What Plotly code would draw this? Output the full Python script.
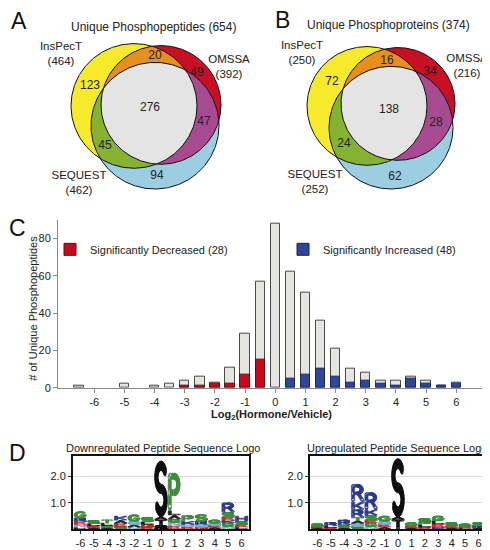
import numpy as np
import plotly.graph_objects as go

FONT = "Liberation Sans, Arial, Helvetica, sans-serif"
TXT = "#222222"
W, H = 490, 550

# ---------------- data ----------------
venn_set_names = ["InsPecT", "OMSSA", "SEQUEST"]
venn_region_keys = ["I", "O", "S", "IO", "IS", "OS", "IOS"]
pep_region_counts = [123, 49, 94, 20, 45, 47, 276]
pep_set_totals = [464, 392, 462]
pep_unique_total = 654
prot_region_counts = [72, 34, 62, 16, 24, 28, 138]
prot_set_totals = [250, 216, 252]
prot_unique_total = 374

hist_bins = [-6.5, -6.0, -5.5, -5.0, -4.5, -4.0, -3.5, -3.0, -2.5, -2.0, -1.5, -1.0, -0.5,
             0.0, 0.5, 1.0, 1.5, 2.0, 2.5, 3.0, 3.5, 4.0, 4.5, 5.0, 5.5, 6.0]
hist_total = [1, 0, 0, 2, 0, 1, 2, 4, 6, 3, 11, 29, 57,
              88, 62, 51, 36, 21, 10, 8, 4, 4, 6, 4, 1, 3]
hist_decreased = [0, 0, 0, 0, 0, 0, 0, 1, 1, 2, 2, 7, 15,
                  0, 0, 0, 0, 0, 0, 0, 0, 0, 0, 0, 0, 0]
hist_increased = [0, 0, 0, 0, 0, 0, 0, 0, 0, 0, 0, 0, 0,
                  0, 5, 7, 10, 6, 3, 4, 2, 1, 5, 2, 1, 2]
hist_ticks = [-6, -5, -4, -3, -2, -1, 0, 1, 2, 3, 4, 5, 6]
hist_ticktext = ["-6", "-5", "-4", "-3", "-2", "-1", "0", "1", "2", "3", "4", "5", "6"]

logo_positions = [-6, -5, -4, -3, -2, -1, 0, 1, 2, 3, 4, 5, 6]
logo_ticktext = ["-6", "-5", "-4", "-3", "-2", "-1", "0", "1", "2", "3", "4", "5", "6"]
# residues listed bottom -> top, with their heights in bits
down_residues = ["LNERG", "AELS", "AGLT", "SEAK", "NAQG", "EDLS", "DQTAS",
                 "ENGALP", "ENKP", "DQRS", "AEQG", "NGKESR", "LESH"]
down_bits = [[0.08, 0.10, 0.12, 0.12, 0.25], [0.06, 0.07, 0.08, 0.12],
             [0.06, 0.08, 0.09, 0.12], [0.10, 0.12, 0.12, 0.16],
             [0.08, 0.10, 0.12, 0.25], [0.08, 0.10, 0.10, 0.17],
             [0.06, 0.08, 0.22, 0.12, 2.10],
             [0.14, 0.12, 0.12, 0.16, 0.16, 1.42],
             [0.10, 0.08, 0.12, 0.22], [0.08, 0.10, 0.12, 0.25],
             [0.07, 0.08, 0.08, 0.12], [0.10, 0.14, 0.10, 0.12, 0.18, 0.36],
             [0.08, 0.10, 0.12, 0.20]]
up_residues = ["AES", "ELR", "AGR", "SQATRKR", "NGESKR", "AEQG", "TAS",
               "AEG", "ELPS", "KELG", "AES", "LEG", "ARS"]
up_bits = [[0.05, 0.06, 0.09], [0.06, 0.07, 0.12], [0.06, 0.10, 0.19],
           [0.10, 0.12, 0.10, 0.12, 0.30, 0.30, 0.66],
           [0.10, 0.14, 0.10, 0.18, 0.23, 0.64],
           [0.08, 0.10, 0.12, 0.20], [0.37, 0.10, 2.20],
           [0.06, 0.07, 0.12], [0.08, 0.10, 0.10, 0.12], [0.08, 0.12, 0.12, 0.18],
           [0.06, 0.07, 0.12], [0.05, 0.06, 0.09], [0.06, 0.08, 0.11]]

# ---------------- styles / layout geometry ----------------
region_colors = {"I": "#f6ea2a", "O": "#c80f23", "S": "#9dcde0", "IO": "#e5901e",
                 "IS": "#86b232", "OS": "#a84a92", "IOS": "#e4e4e4"}
# circles (cx, cy, r) in page pixels
venn_geom = [
    {"I": (126, 99, 63), "O": (153, 98, 60), "S": (147, 119, 64)},
    {"I": (359, 99, 60), "O": (390, 97, 57), "S": (383, 121, 62)},
]
venn_count_pos = [
    {"I": (82, 79), "O": (189, 66), "S": (149, 170), "IO": (147, 49), "IS": (97, 140),
     "OS": (196, 115), "IOS": (142, 101)},
    {"I": (324, 75), "O": (422, 65), "S": (387, 171), "IO": (379, 54), "IS": (336, 138),
     "OS": (428, 116), "IOS": (381, 103)},
]
venn_name_pos = [
    [(53, 47), (221, 60), (71, 178)],
    [(294, 46), (459, 59), (307, 177)],
]
venn_title_pos = [(145, 19), (380, 17)]

fig = go.Figure()


def px_x(v):
    return v / W


def px_y(v):
    return 1 - v / H


def region_poly(circles):
    th = np.linspace(0, 2 * np.pi, 2161)[:-1]
    pts = []
    for i, (cx, cy, r) in enumerate(circles):
        x = cx + r * np.cos(th)
        y = cy + r * np.sin(th)
        m = np.ones_like(x, dtype=bool)
        for j, (cx2, cy2, r2) in enumerate(circles):
            if j != i:
                m &= (x - cx2) ** 2 + (y - cy2) ** 2 <= r2 ** 2 + 1e-9
        pts.append(np.c_[x[m], y[m]])
    P = np.vstack(pts)
    c = P.mean(axis=0)
    ang = np.arctan2(P[:, 1] - c[1], P[:, 0] - c[0])
    P = P[np.argsort(ang)]
    P = np.vstack([P, P[:1]])
    return P[:, 0], P[:, 1]


# ---------------- Venn diagrams ----------------
venn_counts = [pep_region_counts, prot_region_counts]
venn_totals = [pep_set_totals, prot_set_totals]
venn_titles = ["Unique Phosphopeptides (%d)" % pep_unique_total,
               "Unique Phosphoproteins (%d)" % prot_unique_total]
for k in range(2):
    g = venn_geom[k]
    for key in ["I", "O", "S", "IO", "IS", "OS", "IOS"]:
        circ = [g[c] for c in key]
        xs, ys = region_poly(circ)
        fig.add_trace(go.Scatter(x=xs, y=ys, mode="lines", fill="toself",
                                 fillcolor=region_colors[key], line=dict(width=0),
                                 hoverinfo="skip", showlegend=False,
                                 xaxis="x4", yaxis="y4"))
    th = np.linspace(0, 2 * np.pi, 361)
    for c in ["I", "O", "S"]:
        cx, cy, r = g[c]
        fig.add_trace(go.Scatter(x=cx + r * np.cos(th), y=cy + r * np.sin(th), mode="lines",
                                 line=dict(color="#111111", width=1), hoverinfo="skip",
                                 showlegend=False, xaxis="x4", yaxis="y4"))
    fig.add_trace(go.Scatter(
        x=[venn_count_pos[k][r][0] for r in venn_region_keys],
        y=[venn_count_pos[k][r][1] for r in venn_region_keys],
        text=[str(v) for v in venn_counts[k]], mode="text",
        textfont=dict(family=FONT, size=12, color=TXT),
        hoverinfo="skip", showlegend=False, xaxis="x4", yaxis="y4"))
    fig.add_trace(go.Scatter(
        x=[p[0] for p in venn_name_pos[k]], y=[p[1] for p in venn_name_pos[k]],
        text=["%s<br>(%d)" % (n, t) for n, t in zip(venn_set_names, venn_totals[k])],
        mode="text", textfont=dict(family=FONT, size=11.5, color=TXT),
        hoverinfo="skip", showlegend=False, xaxis="x4", yaxis="y4"))
    fig.add_annotation(x=px_x(venn_title_pos[k][0]), y=px_y(venn_title_pos[k][1]),
                       xref="paper", yref="paper", xanchor="center", yanchor="middle",
                       text=venn_titles[k], showarrow=False,
                       font=dict(family=FONT, size=12, color=TXT))

# ---------------- Histogram ----------------
fig.add_trace(go.Bar(x=hist_bins, y=[v if v else None for v in hist_total], width=0.31,
                     marker=dict(color="#e4e4e1", line=dict(color="#4a4a4a", width=1)),
                     showlegend=False, xaxis="x", yaxis="y", hoverinfo="x+y"))
fig.add_trace(go.Bar(x=hist_bins, y=[v if v else None for v in hist_decreased], width=0.31,
                     marker=dict(color="#c8081c", line=dict(color="#5a1010", width=1)),
                     name="Significantly Decreased (%d)" % sum(hist_decreased),
                     legend="legend", xaxis="x", yaxis="y"))
fig.add_trace(go.Bar(x=hist_bins, y=[v if v else None for v in hist_increased], width=0.31,
                     marker=dict(color="#304797", line=dict(color="#1c2658", width=1)),
                     name="Significantly Increased (%d)" % sum(hist_increased),
                     legend="legend2", xaxis="x", yaxis="y"))

# ---------------- Sequence logos ----------------
def arc(cx, cy, rx, ry, a0, a1, n=28):
    t = np.radians(np.linspace(a0, a1, n))
    return list(zip(cx + rx * np.cos(t), cy + ry * np.sin(t)))


# glyph centre-lines in a unit box; stroked with an elliptical pen so that
# the letters stretch like the glyphs of a sequence logo
P_BODY = [[(0.0, 0.0), (0.0, 1.0), (0.5, 1.0)] + arc(0.5, 0.74, 0.42, 0.26, 90, -90) + [(0.0, 0.48)]]
GLYPHS = {
    "S": [arc(0.5, 0.75, 0.5, 0.25, 30, 270) + arc(0.5, 0.25, 0.5, 0.25, 90, -150)],
    "P": P_BODY,
    "R": P_BODY + [[(0.55, 0.48), (1.0, 0.0)]],
    "K": [[(0.0, 0.0), (0.0, 1.0)], [(1.0, 1.0), (0.0, 0.3)], [(0.35, 0.57), (1.0, 0.0)]],
    "T": [[(0.0, 1.0), (1.0, 1.0)], [(0.5, 1.0), (0.5, 0.0)]],
    "E": [[(1.0, 1.0), (0.0, 1.0), (0.0, 0.0), (1.0, 0.0)], [(0.0, 0.5), (0.8, 0.5)]],
    "G": [arc(0.5, 0.5, 0.5, 0.5, 40, 320) + [(1.0, 0.45), (0.55, 0.45)]],
    "A": [[(0.0, 0.0), (0.5, 1.0), (1.0, 0.0)], [(0.22, 0.38), (0.78, 0.38)]],
    "L": [[(0.0, 1.0), (0.0, 0.0), (1.0, 0.0)]],
    "D": [[(0.0, 0.0), (0.0, 1.0), (0.45, 1.0)] + arc(0.45, 0.5, 0.55, 0.5, 90, -90) + [(0.0, 0.0)]],
    "Q": [arc(0.5, 0.5, 0.5, 0.5, 0, 360), [(0.6, 0.25), (1.0, 0.0)]],
    "N": [[(0.0, 0.0), (0.0, 1.0), (1.0, 0.0), (1.0, 1.0)]],
    "H": [[(0.0, 0.0), (0.0, 1.0)], [(1.0, 0.0), (1.0, 1.0)], [(0.0, 0.5), (1.0, 0.5)]],
}
RES_COLORS = {"G": "#3c8c3c", "S": "#3c8c3c", "T": "#3c8c3c", "P": "#3c8c3c",
              "K": "#2c3a8e", "R": "#2c3a8e", "H": "#2c3a8e",
              "D": "#c8242c", "E": "#c8242c",
              "N": "#74aed0", "Q": "#74aed0",
              "A": "#222222", "L": "#222222"}

PEN_U, PEN_V = 0.13, 0.085   # half stroke width in unit-box coordinates


def glyph_outline(letter):
    us, vs = [], []
    ring = np.linspace(0, 2 * np.pi, 13)
    ring = np.c_[np.cos(ring), np.sin(ring)]
    scale = np.array([PEN_U, PEN_V])
    for st in GLYPHS[letter]:
        P = np.array(st, dtype=float)
        P[:, 0] = PEN_U + P[:, 0] * (1 - 2 * PEN_U)
        P[:, 1] = PEN_V + P[:, 1] * (1 - 2 * PEN_V)
        Q = P / scale
        for a, b in zip(Q[:-1], Q[1:]):
            d = b - a
            L = np.hypot(d[0], d[1])
            if L < 1e-9:
                continue
            n = np.array([-d[1], d[0]]) / L
            quad = np.array([a + n, b + n, b - n, a - n, a + n]) * scale
            us += list(quad[:, 0]) + [None]
            vs += list(quad[:, 1]) + [None]
        for p in Q:
            disc = (p + ring) * scale
            us += list(disc[:, 0]) + [None]
            vs += list(disc[:, 1]) + [None]
    return us, vs


LOGO_XR = [-6.55, 6.55]
LOGO_YR = [0, 2.77]
logo_xdom = [[65, 241], [302, 478]]
logo_ydom = [453, 527]


def draw_logo(residues, bits, xa, ya):
    for pos, res, hts in zip(logo_positions, residues, bits):
        base = 0.0
        for letter, h in zip(res, hts):
            us, vs = glyph_outline(letter)
            x0, x1 = pos - 0.47, pos + 0.47
            xs = [None if u is None else x0 + u * (x1 - x0) for u in us]
            ys = [None if v is None else base + v * h for v in vs]
            color = "#111111" if pos == 0 else RES_COLORS[letter]
            fig.add_trace(go.Scatter(x=xs, y=ys, mode="lines", fill="toself",
                                     fillcolor=color, line=dict(color=color, width=0.5),
                                     hoverinfo="skip", showlegend=False,
                                     xaxis=xa, yaxis=ya))
            base += h


draw_logo(down_residues, down_bits, "x2", "y2")
draw_logo(up_residues, up_bits, "x3", "y3")

# ---------------- layout ----------------
hist_axis = dict(showline=True, linecolor="#8a8a8a", linewidth=1, ticks="outside",
                 ticklen=4, tickcolor="#8a8a8a", showgrid=False, zeroline=False,
                 tickfont=dict(family=FONT, size=11, color=TXT))
logo_axis = dict(showline=True, mirror=True, linecolor="#111111", linewidth=2,
                 ticks="outside", ticklen=3, tickcolor="#333333", zeroline=False,
                 fixedrange=True)

layout = dict(
    width=W, height=H, margin=dict(l=0, r=0, t=0, b=0),
    paper_bgcolor="white", plot_bgcolor="rgba(0,0,0,0)",
    font=dict(family=FONT, size=11, color=TXT),
    barmode="overlay", bargap=0,
    xaxis=dict(domain=[px_x(50), px_x(477)], range=[-7.2, 6.95], tickvals=hist_ticks,
               ticktext=hist_ticktext, anchor="y",
               title=dict(text="Log<sub>2</sub>(Hormone/Vehicle)", standoff=1,
                          font=dict(family=FONT, size=11, color=TXT, weight="bold")),
               **hist_axis),
    yaxis=dict(domain=[px_y(384), px_y(214)], range=[0, 90], tickvals=[0, 20, 40, 60, 80],
               anchor="x", **hist_axis),
    xaxis2=dict(domain=[px_x(logo_xdom[0][0]), px_x(logo_xdom[0][1])], range=LOGO_XR,
                tickvals=logo_positions, ticktext=logo_ticktext, anchor="y2",
                showgrid=False, tickangle=0,
                tickfont=dict(family=FONT, size=11, color=TXT), **logo_axis),
    yaxis2=dict(domain=[px_y(logo_ydom[1]), px_y(logo_ydom[0])], range=LOGO_YR,
                tickvals=[1, 2], ticktext=["1.0", "2.0"], anchor="x2",
                tickfont=dict(family=FONT, size=11, color=TXT),
                showgrid=True, gridcolor="#dcdcdc", gridwidth=1, **logo_axis),
    xaxis3=dict(domain=[px_x(logo_xdom[1][0]), px_x(logo_xdom[1][1])], range=LOGO_XR,
                tickvals=logo_positions, ticktext=logo_ticktext, anchor="y3",
                showgrid=False, tickangle=0,
                tickfont=dict(family=FONT, size=11, color=TXT), **logo_axis),
    yaxis3=dict(domain=[px_y(logo_ydom[1]), px_y(logo_ydom[0])], range=LOGO_YR,
                tickvals=[1, 2], ticktext=["1.0", "2.0"], anchor="x3",
                tickfont=dict(family=FONT, size=11, color=TXT),
                showgrid=True, gridcolor="#dcdcdc", gridwidth=1, **logo_axis),
    xaxis4=dict(domain=[0, 1], range=[0, W], visible=False, anchor="y4", fixedrange=True),
    yaxis4=dict(domain=[0, 1], range=[H, 0], visible=False, anchor="x4", fixedrange=True),
    legend=dict(x=px_x(42), y=px_y(244), xanchor="left", yanchor="middle",
                bgcolor="rgba(0,0,0,0)", font=dict(family=FONT, size=11, color=TXT)),
    legend2=dict(x=px_x(275), y=px_y(244), xanchor="left", yanchor="middle",
                 bgcolor="rgba(0,0,0,0)", font=dict(family=FONT, size=11, color=TXT)),
)
fig.update_layout(**layout)

# y-axis title of the histogram
fig.add_annotation(x=px_x(25), y=px_y(304), xref="paper", yref="paper",
                   text="# of Unique Phosphopeptides", textangle=-90,
                   xanchor="center", yanchor="middle", showarrow=False,
                   font=dict(family=FONT, size=11, color=TXT))

# panel letters and logo titles
for lab, (x, y) in zip(["A", "B", "C", "D"], [(11, 13), (274, 12), (9, 222), (9, 450)]):
    fig.add_annotation(x=px_x(x), y=px_y(y), xref="paper", yref="paper", text=lab,
                       xanchor="center", yanchor="middle",
                       showarrow=False, font=dict(family=FONT, size=23, color="#111111"))
for txt, x in [("Downregulated Peptide Sequence Logo", 155),
               ("Upregulated Peptide Sequence Logo", 389)]:
    fig.add_annotation(x=px_x(x), y=px_y(445), xref="paper", yref="paper", text=txt,
                       xanchor="center", yanchor="middle",
                       showarrow=False, font=dict(family=FONT, size=11, color=TXT))

fig.write_html("out.html")
